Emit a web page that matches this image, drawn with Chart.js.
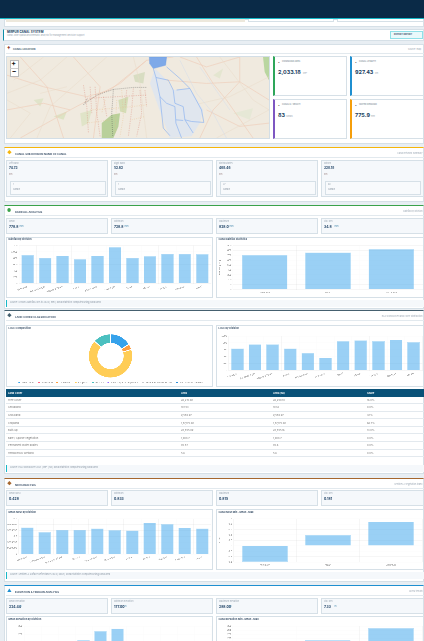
<!DOCTYPE html>
<html>
<head>
<meta charset="utf-8">
<title>Mirpur Canal System</title>
<script src="https://cdn.jsdelivr.net/npm/chart.js@4"></script>
<style>
  html, body { margin:0; padding:0; width:424px; height:641px; overflow:hidden; background:#e8eef3; font-family:'Inter', sans-serif; }
  #page { position:relative; width:424px; height:641px; overflow:hidden; filter:blur(0.25px); }
  .b { position:absolute; box-sizing:border-box; }
  .card { background:#fff; border:1px solid #d6e0e7; }
  .kpi { background:#f5f8fb; border:1px solid #d6e0e7; }
  .t { position:absolute; white-space:nowrap; line-height:1; }
  canvas { position:absolute; left:0; top:0; }
</style>
</head>
<body>
<div id="page"></div>
<script>
// ── Data ──────────────────────────────────────────────────────────────────────
const divisions = ['Ahmadpur','Bahawalnagar','Sultanpur Sharif','Nawan','Shahzadpur','Rupnagar','Jamal','Mirpur','Hasilpur','Fatehpur','Minori'];
const statLabels = ['Minimum','Mean','Maximum'];

const rainByDivision = [903, 811, 880, 766, 880, 1143, 811, 857, 937, 937, 926];
const rainStats = [707, 757, 821];

const coverNames = ['Tree Cover','Shrubland','Grassland','Cropland','Built-up','Bare / Sparse vegetation','Permanent water bodies','Herbaceous Wetland'];
const coverArea = ['26,215.09','101.53','9,559.97','1,57,175.09','28,555.09','1,008.7','85.57','5.6'];
const coverHa = ['26,250.10','101.6','9,559.97','1,57,175.09','28,555.16','1,008.7','85.6','5.6'];
const coverShare = ['16.0%','0.0%','4.1%','66.7%','13.0%','0.0%','0.0%','0.0%'];
const coverSlices = [16, 0.1, 4.1, 66.7, 13, 0.1, 0.03, 0.01];
const coverColors = ['#36a2eb','#ff6384','#ff9f40','#ffcd56','#4bc0c0','#9966ff','#c9cbcf','#2f8fd8'];
const cropByDivision = [637, 755, 755, 637, 510, 373, 853, 873, 853, 892, 824];

const ndviByDivision = [0.451, 0.371, 0.411, 0.411, 0.434, 0.406, 0.40, 0.531, 0.509, 0.446, 0.434];
const ndviStats = [-0.6, 0.4, 0.89];

const elevByDivision = [190, 185, 180, 212, 268, 284, 190, 185, 180, 175, 178];
const elevStats = [177, 212, 288];

// ── Helpers ───────────────────────────────────────────────────────────────────
const page = document.getElementById('page');

function box(x, y, w, h, cls, style = '') {
    const d = document.createElement('div');
    d.className = 'b ' + cls;
    d.style.cssText = `left:${x}px;top:${y}px;width:${w}px;height:${h}px;${style}`;
    page.appendChild(d);
    return d;
}

function text(x, y, s, size, color = '#444', bold = false) {
    const d = document.createElement('div');
    d.className = 't';
    d.textContent = s;
    d.style.cssText = `left:${x}px;top:${y}px;font-size:${size}px;color:${color};font-weight:${bold ? 700 : 400};`;
    page.appendChild(d);
    return d;
}

function section(y, h, color, title, right, glyph) {
    box(4, y, 420, h, 'card', `border-top:1.5px solid ${color};`);
    text(7, y + 3.5, glyph, 4.5, color, true);
    text(15, y + 5.5, title, 2.7, '#3a5068', true);
    const r = text(0, y + 6, right, 2.2, '#9aa6b2');
    r.style.left = 'auto'; r.style.right = '1.5px';
    box(6, y + 10, 418, 1, '', 'background:#e2e9ee;');
}

function statRow(y, h, items) {
    const xs = [6, 111, 216, 321];
    items.forEach((it, i) => {
        box(xs[i], y, i === 3 ? 103 : 102, h, 'kpi');
        text(xs[i] + 3, y + 3, it[0], 2.2, '#9aa6b2');
        text(xs[i] + 3, y + 7.5, it[1], 3.4, '#1b3f63', true);
        if (it[2]) text(xs[i] + 13.5, y + 8.3, it[2], 2.4, '#4d8fb0');
    });
}

function note(y, s) {
    box(6, y, 418, 7, '', 'background:#f5f8fb;border-left:1px solid #17b8c8;');
    text(10, y + 2.4, s, 2.2, '#8996a3');
}

function barChart(x, y, w, h, title, labels, values, o) {
    const c = box(x, y, w, h, 'card');
    text(x + 2.5, y + 2.8, title, 2.5, '#3a5068', true);
    const cv = document.createElement('canvas');
    cv.width = w; cv.height = h;
    c.appendChild(cv);
    new Chart(cv.getContext('2d'), {
        type: 'bar',
        data: { labels, datasets: [{
            data: values,
            backgroundColor: 'rgba(54,162,235,0.5)',
            borderColor: 'rgba(54,162,235,0.35)',
            borderWidth: 0.6,
        }] },
        options: {
            responsive: false, animation: false,
            devicePixelRatio: 3,
            layout: { padding: { top: o.top, right: o.right, left: 0, bottom: 0 } },
            plugins: { legend: { display:false }, tooltip: { enabled:false } },
            scales: {
                x: {
                    grid: { color:'rgba(0,0,0,0.035)', lineWidth:0.5, drawTicks:false },
                    border: { display:false },
                    ticks: { color:'#9a9a9a', font:{ size:2.5 }, padding:1.5, autoSkip:false,
                             maxRotation:o.rot, minRotation:o.rot },
                    afterFit: s => { s.height = o.xh; },
                },
                y: {
                    min: o.min, max: o.max,
                    grid: { color:'rgba(0,0,0,0.035)', lineWidth:0.5, drawTicks:false },
                    border: { display:false },
                    title: { display:!!o.ytitle, text:o.ytitle, color:'#8a8a8a', font:{ size:2.5 }, padding:1 },
                    ticks: { color:'#8a8a8a', font:{ size:2.5 }, padding:1.5, stepSize:o.step, autoSkip:false,
                             callback: v => o.fmt ? o.fmt(v) : v },
                    afterFit: s => { s.width = o.yw; },
                },
            },
        },
    });
}

// ── Header ────────────────────────────────────────────────────────────────────
box(0, 0, 424, 18.5, '', 'background:#0a2a47;');
box(0, 18, 424, 1, '', 'background:#17b8c8;');
box(4, 19, 420, 7.5, 'card');
box(6, 19, 239, 3, '', 'background:#ede8dc;');
box(248, 19, 86, 3, '', 'background:#fff;border:1px solid #d6e0e7;border-top:0;');
box(337, 19, 87, 3, '', 'background:#fff;border:1px solid #d6e0e7;border-top:0;');

box(3, 29, 421, 12, 'card', 'border-left:1px solid #0e8fa8;');
text(7, 30.5, 'MIRPUR CANAL SYSTEM', 3, '#1b3f63', true);
text(7, 34.5, 'Canal-wise spatial and thematic analysis for management decision support', 2.2, '#9aa6b2');
box(390, 31, 33, 8, '', 'background:#eaf9fb;border:1px solid #8fe0e8;');
text(394, 33.8, 'EXPORT REPORT', 2.2, '#3a5068', true);

// ── Canal location ────────────────────────────────────────────────────────────
box(4, 43.5, 420, 100, 'card');
text(7, 46, '†', 6, '#8a3a2a', true);
text(13, 48.8, 'CANAL LOCATION', 2.5, '#3a5068', true);
text(408, 48.5, 'Source: map', 2.2, '#9aa6b2');
box(6, 53, 418, 1, '', 'background:#e2e9ee;');

const map = box(6, 56, 264, 83, '', 'border:1px solid #d3dee6;background:#efe9df;overflow:hidden;');
map.innerHTML = `<svg viewBox="20 170 788 245" width="262" height="81" preserveAspectRatio="none" style="display:block">
  <rect x="20" y="170" width="788" height="245" fill="#f0eadf"/>
  <path d="M790 170L808 170L808 240L795 215Z" fill="#b9d6a0"/>
  <path d="M305 370L335 345L360 340L355 380L340 415L305 415Z" fill="#b9d09a"/>
  <path d="M355 300L385 290L378 340L360 335Z" fill="#d4ddb6"/>
  <path d="M240 340L275 330L265 370L245 380Z" fill="#e0e4c8"/><path d="M160 350L200 335L190 360Z" fill="#dde3c4"/>
  <path d="M400 225L435 215L430 250L405 245Z" fill="#d8ddc2"/><path d="M640 225L670 205L660 235Z" fill="#e4e6d0"/>
  <path d="M100 300L130 295L120 320Z" fill="#e0e4ca"/><path d="M700 340L760 325L750 360Z" fill="#e6e8d6"/>
  <g fill="none" stroke="#eecdb9" stroke-width="2">
    <path d="M20 225L130 260L260 290L330 270L440 180L520 170"/><path d="M60 170L140 260L190 415"/>
    <path d="M220 170L300 260L280 415"/><path d="M440 180L360 250L210 330L60 415"/>
    <path d="M500 240L620 250L720 245L808 300"/><path d="M590 170L640 250L680 300L760 415"/>
    <path d="M720 170L720 245L640 330L600 415"/><path d="M20 330L130 310L210 330"/>
    <path d="M540 170L620 200L720 170"/><path d="M620 330L720 380L808 370"/>
  </g>
  <g fill="none" stroke="#e9dac8" stroke-width="1.5">
    <path d="M20 280L120 240L200 170"/><path d="M110 415L150 320L320 170"/><path d="M660 170L760 300L808 330"/>
    <path d="M400 170L420 250L440 415"/><path d="M560 320L690 290L808 230"/><path d="M130 170L40 240"/>
    <path d="M30 415L90 340L20 300"/><path d="M200 260L120 280"/><path d="M650 415L808 330"/>
  </g>
  <path d="M465 205L500 240L520 270L570 265L610 330L600 370L575 410L510 415L475 320L450 250Z" fill="#e0e6ee"/>
  <path d="M448 170L500 170L497 195L460 205L449 190Z" fill="#7ea9e8" stroke="#5f93e2"/>
  <g fill="none" stroke="#8ab2f0" stroke-width="2">
    <path d="M460 205L468 232L505 240L520 270L525 310L550 320L555 360L580 400"/>
    <path d="M468 232L480 290L500 310L525 320L528 370L545 415"/>
    <path d="M500 200L540 235L570 265L605 330L612 368L575 365L555 360"/>
    <path d="M570 265L530 270"/><path d="M480 290L490 385L510 408"/><path d="M528 360L550 362"/>
  </g>
  <g fill="none" stroke="#ccd8ee" stroke-width="1.2"><path d="M540 180L590 280L640 340L680 415"/><path d="M600 200L690 330"/></g>
  <g fill="none" stroke="#555" stroke-width="1.3" stroke-dasharray="3 3">
    <path d="M255 310L290 285L340 268L400 262L440 262"/><path d="M340 268L335 340L338 410"/><path d="M250 315L262 295"/>
  </g>
  <g fill="none" stroke="#dc9486" stroke-width="1.3" stroke-dasharray="4 3">
    <path d="M250 255L260 320L265 400"/><path d="M285 260L290 340L300 410"/><path d="M400 265L395 330L385 410"/>
    <path d="M260 295L440 285"/><path d="M420 270L425 340L410 410"/><path d="M310 290L320 350"/><path d="M270 260L275 340"/>
    <path d="M380 270L375 320"/><path d="M435 270L440 320"/>
  </g>
  <g fill="none" stroke="#e8bb85" stroke-width="1.2" stroke-dasharray="3 4">
    <path d="M270 330L350 325L440 315"/><path d="M365 270L370 350L360 410"/><path d="M350 300L345 400"/>
    <path d="M260 370L330 360"/><path d="M395 360L435 350"/><path d="M315 300L305 340"/>
  </g>
</svg>`;
box(9.5, 60, 9, 17, '', 'background:#fff;border:1px solid #bbb;');
text(11.3, 60, '+', 7, '#111', true);
text(11.8, 68, '−', 7, '#111', true);
box(10, 68, 8, 0.6, '', 'background:#ccc;');

const mapKpis = [
    [273, 56, 74, 39.5, '#2ea65a', 'COMMAND AREA', '2,033.18', 'km²', 278, 303],
    [350, 56, 74, 39.5, '#1f8fd0', 'CANAL LENGTH', '927.43', 'km', 355, 375],
    [273, 99, 74, 40, '#7e57c2', 'CANALS / REACH', '83', 'canals', 278, 286],
    [350, 99, 74, 40, '#f59e0b', 'WATER DEMAND', '775.9', 'mm', 355, 371],
];
mapKpis.forEach(k => {
    box(k[0], k[1], k[2], k[3], 'card', `border-left:2px solid ${k[4]};`);
    text(k[0] + 5, k[1] + 4.5, '▪', 3, '#555');
    text(k[0] + 9, k[1] + 4.8, k[5], 2.2, '#6a7a88');
    text(k[8], k[1] + 14.2, k[6], 5.4, '#1b3f63', true);
    text(k[9], k[1] + 16.8, k[7], 2.2, '#9aa6b2');
});

// ── Canal network ─────────────────────────────────────────────────────────────
section(147, 55, '#f5b50a', 'CANAL SUB DIVISION NAME OF CANAL', 'Canal network summary', '◆');
const netNames = ['Left Bank','Right Bank','Distributaries','Minors'];
const netVals = ['74.73','52.62','468.46','328.18'];
const netCounts = ['1','1','27','60'];
[6, 111, 216, 321].forEach((x, i) => {
    box(x, 160, i === 3 ? 103 : 102, 37, 'kpi');
    text(x + 3, 162.5, netNames[i], 2.2, '#9aa6b2');
    text(x + 3, 167, netVals[i], 3.2, '#1b3f63', true);
    text(x + 3, 174, 'km', 2.4, '#a08a8a');
    box(x + 3.5, 181, 96, 14, '', 'border:1px solid #d6e0e7;background:#f8fafc;');
    text(x + 7, 184, netCounts[i], 2.2, '#9aa6b2');
    text(x + 7, 188.5, 'Canals', 2.2, '#8996a3');
});

// ── Rainfall ──────────────────────────────────────────────────────────────────
section(205, 104, '#3aa24a', 'RAINFALL ANALYSIS', 'Rainfall by division', '●');
statRow(218, 15.5, [['Mean','778.8','mm'],['Minimum','728.8','mm'],['Maximum','828.0','mm'],['Std. Dev','34.8','mm']]);
barChart(6, 236.5, 207, 61, 'Rainfall by Division', divisions, rainByDivision,
    { top:7.5, right:3, yw:12, xh:15.5, rot:20, min:0, max:1200, step:200, fmt:v => v.toLocaleString('en-US') });
barChart(216, 236.5, 208, 61, 'Canal Rainfall Statistics', statLabels, rainStats,
    { top:7.5, right:2, yw:16, xh:9.5, rot:0, min:0, max:900, step:100, ytitle:'Rainfall (mm)' });
note(300, 'Source: CHIRPS Rainfall 2015 to 2024 | mm | Zonal statistics computed using canal area');

// ── Land cover ────────────────────────────────────────────────────────────────
section(310, 164, '#45606f', 'LAND COVER CLASSIFICATION', 'ESA WorldCover land cover distribution', '◆');
const donutCard = box(6, 325, 207, 62, 'card');
text(8.5, 327.8, 'LULC Composition', 2.5, '#3a5068', true);
const dCanvas = document.createElement('canvas');
dCanvas.width = 207; dCanvas.height = 62;
donutCard.appendChild(dCanvas);
new Chart(dCanvas.getContext('2d'), {
    type: 'doughnut',
    data: { labels: coverNames, datasets: [{
        data: coverSlices, backgroundColor: coverColors, borderColor:'#fff', borderWidth:0.8,
    }] },
    options: {
        responsive:false, animation:false, devicePixelRatio:3, cutout:'58%',
        layout: { padding:{ top:7.5, bottom:-6 } },
        plugins: {
            tooltip: { enabled:false },
            legend: { position:'bottom', labels:{ boxWidth:2.6, boxHeight:1.8, padding:3.2, color:'#8a8a8a', font:{ size:2.5 } } },
        },
    },
});
barChart(216, 325, 208, 62, 'LULC by Division', divisions, cropByDivision,
    { top:10, right:2.5, yw:11.5, xh:17.5, rot:20, min:0, max:1000, step:200 });

box(6, 389, 418, 7.5, '', 'background:#0a5278;');
const tableHead = ['Land Cover','Area','Area (ha)','Share'];
const colX = [8, 181, 273, 367];
tableHead.forEach((s, i) => text(colX[i], 391.5, s, 2.6, '#fff', true));
coverNames.forEach((name, i) => {
    const y = 396.5 + i * 7.6;
    text(colX[0], y + 2.2, name, 2.6, '#777');
    text(colX[1], y + 2.2, coverArea[i], 2.6, '#777');
    text(colX[2], y + 2.2, coverHa[i], 2.6, '#777');
    text(colX[3], y + 2.2, coverShare[i], 2.6, '#777');
    box(6, y + 6.5, 418, 0.9, '', 'background:#e3e9ee;');
});
note(465, 'Source: ESA WorldCover 2021 | km² | ha | Zonal statistics computed using canal area');

// ── NDVI ──────────────────────────────────────────────────────────────────────
section(478, 103.5, '#a5672f', 'NDVI ANALYSIS', 'Sentinel-2 vegetation index', '◆');
statRow(490, 16, [['Mean NDVI','0.428',''],['Minimum','0.833',''],['Maximum','0.815',''],['Std. Dev','0.181','']]);
barChart(6, 509, 207, 61, 'Mean NDVI by Division', divisions, ndviByDivision,
    { top:8.7, right:3, yw:11.5, xh:17, rot:20, min:0, max:0.6, step:0.1 });
barChart(216, 509, 208, 61, 'Canal NDVI Min · Mean · Max', statLabels, ndviStats,
    { top:8.7, right:2.5, yw:16.5, xh:9, rot:0, min:-0.6, max:1, step:0.2, ytitle:'NDVI',
      fmt:v => Number(v.toFixed(1)) });
note(572, 'Source: Sentinel-2 Surface Reflectance 2024 | NDVI | Zonal statistics computed using canal area');

// ── Elevation ─────────────────────────────────────────────────────────────────
section(585, 120, '#1f8fd0', 'ELEVATION & TERRAIN ANALYSIS', 'SRTM terrain', '▲');
statRow(598, 16, [['Mean Elevation','224.44','m'],['Minimum Elevation','177.00','m'],['Maximum Elevation','288.00','m'],['Std. Dev','7.33','m']]);
barChart(6, 616, 207, 61, 'Mean Elevation by Division', divisions, elevByDivision,
    { top:9, right:3, yw:17, xh:2, rot:0, min:0, max:300, step:50, ytitle:'Elevation (m)' });
barChart(216, 616, 208, 61, 'Canal Elevation Min · Mean · Max', statLabels, elevStats,
    { top:9, right:2.5, yw:16, xh:2, rot:0, min:0, max:300, step:25, ytitle:'Elevation (m)' });
</script>
</body>
</html>
